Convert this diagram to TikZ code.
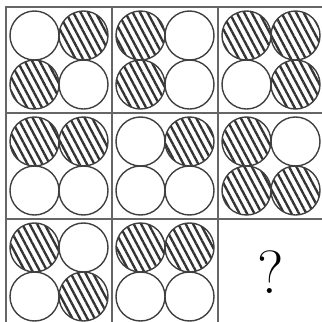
\documentclass[tikz,border=0pt]{standalone}
\usepackage{tikz}
\usetikzlibrary{patterns.meta}

\begin{document}
\begin{tikzpicture}[x=0.03cm, y=-0.03cm,
    cellbox/.style={draw=black!60, line width=1.6pt, minimum size=3.18cm, inner sep=0pt, outer sep=0pt},
    ball/.style={circle, draw=black!75, line width=1.2pt, minimum size=1.47cm, inner sep=0pt, outer sep=0pt},
    striped/.style={ball, pattern={Lines[angle=-62, distance=5.6pt, line width=2pt]}, pattern color=black!80}]

    \useasboundingbox (0,0) rectangle (322,322);

    % the nine cells
    \foreach \r in {0,1,2}
      \foreach \c in {0,1,2}
        \node [cellbox] (c\r\c) at ({59+106*\c},{60+106*\r}) {};

    % four balls in each cell
    \foreach \r/\c/\tl/\tr/\bl/\br in {
        0/0/ball/striped/striped/ball,
        0/1/striped/ball/striped/ball,
        0/2/striped/striped/ball/striped,
        1/0/striped/striped/ball/ball,
        1/1/ball/striped/ball/ball,
        1/2/striped/ball/striped/striped,
        2/0/striped/ball/ball/striped,
        2/1/striped/striped/ball/ball} {
      \node [\tl] (b\r\c tl) at ([xshift=-0.735cm, yshift=0.735cm]c\r\c.center) {};
      \node [\tr] (b\r\c tr) at ([xshift=0.735cm, yshift=0.735cm]c\r\c.center) {};
      \node [\bl] (b\r\c bl) at ([xshift=-0.735cm, yshift=-0.735cm]c\r\c.center) {};
      \node [\br] (b\r\c br) at ([xshift=0.735cm, yshift=-0.735cm]c\r\c.center) {};
    }

    \node [font=\fontsize{52}{52}\selectfont] (q) at (c22.center) {?};
\end{tikzpicture}
\end{document}
